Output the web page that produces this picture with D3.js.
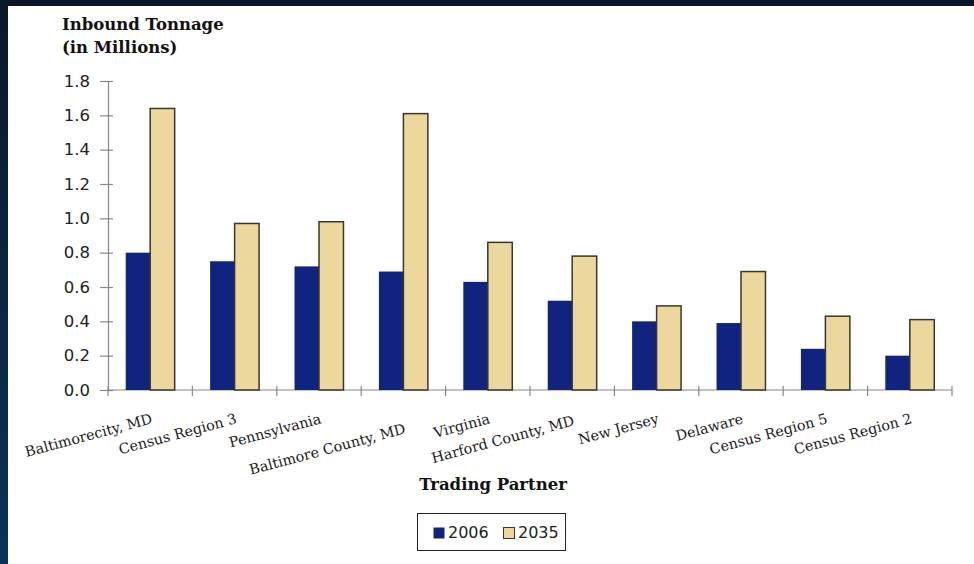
<!DOCTYPE html>
<html><head><meta charset="utf-8">
<script src="https://cdn.jsdelivr.net/npm/d3@7"></script>
<style>html,body{margin:0;padding:0;background:#fff;}svg{display:block;}</style>
</head><body>
<svg id="chart" width="974" height="564"></svg>
<script>
const categories = ["Baltimorecity, MD","Census Region 3","Pennsylvania","Baltimore County, MD","Virginia","Harford County, MD","New Jersey","Delaware","Census Region 5","Census Region 2"];
const seriesNames = ["2006","2035"];
const values2006 = [0.80,0.75,0.72,0.69,0.63,0.52,0.40,0.39,0.24,0.20];
const values2035 = [1.64,0.97,0.98,1.61,0.86,0.78,0.49,0.69,0.43,0.41];
const yTicks = [0,0.2,0.4,0.6,0.8,1.0,1.2,1.4,1.6,1.8];

(function(){
const colors = {"2006":"#10237f","2035":"#ecd79d"};
const svg = d3.select("#chart");

// frame
const defs = svg.append("defs");
const lg = defs.append("linearGradient").attr("id","side").attr("x1",0).attr("y1",0).attr("x2",0).attr("y2",1);
lg.append("stop").attr("offset","0%").attr("stop-color","#0a1828");
lg.append("stop").attr("offset","100%").attr("stop-color","#0b3358");
svg.append("rect").attr("x",0).attr("y",0).attr("width",974).attr("height",564).attr("fill","#fff");
svg.append("rect").attr("x",0).attr("y",0).attr("width",974).attr("height",6).attr("fill","#0a1828");
svg.append("rect").attr("x",0).attr("y",0).attr("width",8).attr("height",564).attr("fill","url(#side)");

const pl = 108, pr = 952, pt = 81, pb = 390;
const x = d3.scaleBand().domain(categories).range([pl,pr]).paddingInner(0.42).paddingOuter(0.21);
const xs = d3.scaleBand().domain(seriesNames).range([0,x.bandwidth()]);
const y = d3.scaleLinear().domain([0,1.8]).range([pb,pt]);

// y axis
const yAxis = svg.append("g").attr("transform",`translate(${pl},0)`)
  .call(d3.axisLeft(y).tickValues(yTicks).tickFormat(d3.format(".1f")).tickSize(0).tickPadding(18));
yAxis.select(".domain").attr("stroke","#888").attr("stroke-width",1.2);
yAxis.selectAll(".tick text").attr("font-family","DejaVu Sans, Verdana, sans-serif").attr("font-size",16.5).attr("fill","#222");
yAxis.selectAll(".tick").append("line").attr("x1",-8).attr("x2",5).attr("stroke","#888").attr("stroke-width",1.2);

// x axis line and ticks
const bounds = d3.range(categories.length+1).map(i => pl + i*(pr-pl)/categories.length);
svg.append("line").attr("x1",pl).attr("x2",pr).attr("y1",pb).attr("y2",pb).attr("stroke","#888").attr("stroke-width",1.2);
svg.selectAll(".xt").data(bounds).enter().append("line")
  .attr("x1",d=>d).attr("x2",d=>d).attr("y1",pb-4).attr("y2",pb+6).attr("stroke","#888").attr("stroke-width",1.2);

// bars
const groups = svg.append("g").selectAll("g").data(categories).enter().append("g")
  .attr("transform",d=>`translate(${x(d)},0)`);
groups.append("rect")
  .attr("x",xs("2006")).attr("width",xs.bandwidth())
  .attr("y",(d,i)=>y(values2006[i])).attr("height",(d,i)=>pb-y(values2006[i]))
  .attr("fill",colors["2006"]);
groups.append("rect")
  .attr("x",xs("2035")).attr("width",xs.bandwidth())
  .attr("y",(d,i)=>y(values2035[i])).attr("height",(d,i)=>pb-y(values2035[i]))
  .attr("fill",colors["2035"]).attr("stroke","#3b3530").attr("stroke-width",1.5);

// x labels
const lowered = {"Baltimore County, MD":10,"Harford County, MD":2};
svg.append("g").selectAll("text").data(categories).enter().append("text")
  .attr("transform",d=>`translate(${x(d)+x.bandwidth()/2+3},${423+(lowered[d]||0)}) rotate(-15)`)
  .attr("text-anchor","end")
  .attr("font-family","DejaVu Serif, serif").attr("font-size",14.3).attr("fill","#1a1a1a")
  .text(d=>d);

// titles
const t = svg.append("text")
  .attr("font-family","DejaVu Serif, serif").attr("font-weight","bold").attr("font-size",16.5).attr("fill","#111");
t.append("tspan").attr("x",62).attr("y",30).text("Inbound Tonnage");
t.append("tspan").attr("x",62).attr("y",53).text("(in Millions)");
svg.append("text").attr("x",493).attr("y",490).attr("text-anchor","middle")
  .attr("font-family","DejaVu Serif, serif").attr("font-weight","bold").attr("font-size",16.5).attr("fill","#111")
  .text("Trading Partner");

// legend
const leg = svg.append("g");
leg.append("rect").attr("x",417.5).attr("y",513.5).attr("width",148).attr("height",37).attr("fill","#fff").attr("stroke","#222").attr("stroke-width",1);
const li = leg.selectAll("g").data(seriesNames).enter().append("g")
  .attr("transform",(d,i)=>`translate(${433+i*70},0)`);
li.append("rect").attr("x",0.5).attr("y",527.5).attr("width",11).attr("height",11)
  .attr("fill",d=>colors[d]).attr("stroke",d=>d==="2035"?"#3b3530":"none").attr("stroke-width",1);
li.append("text").attr("x",15).attr("y",538).attr("font-family","DejaVu Sans, Verdana, sans-serif").attr("font-size",16).attr("fill","#222").text(d=>d);
})();
</script>
</body></html>
